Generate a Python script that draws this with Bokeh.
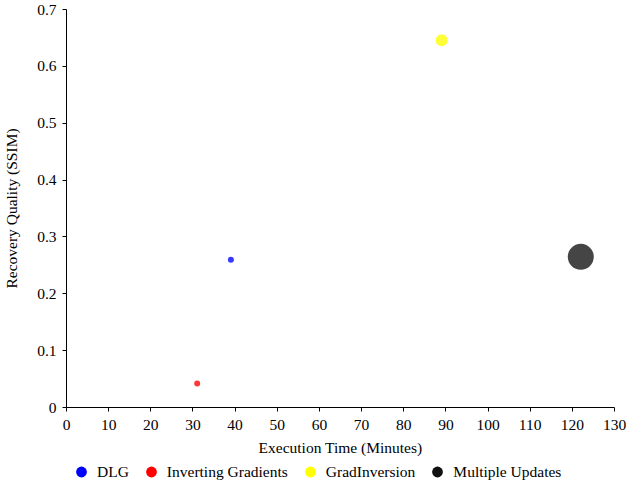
import math
from bokeh.plotting import figure
from bokeh.layouts import column
from bokeh.models import FixedTicker, Legend, LegendItem, ColumnDataSource
from bokeh.embed import file_html
from bokeh.resources import INLINE

methods = ["DLG", "Inverting Gradients", "GradInversion", "Multiple Updates"]
exec_time = [39, 31, 89, 122]
ssim = [0.26, 0.042, 0.646, 0.265]
colors = ["#0000ff", "#ff0000", "#ffff00", "#111111"]
marker_px = [6, 6, 12, 26]
x_ticks = list(range(0, 131, 10))
y_ticks = [0, 0.1, 0.2, 0.3, 0.4, 0.5, 0.6, 0.7]

FONT = "Liberation Serif"

p = figure(output_backend="svg", toolbar_location=None,
           frame_width=548, frame_height=398,
           x_range=(0, 130), y_range=(0, 0.7),
           min_border_left=65, min_border_right=12, min_border_top=9,
           min_border_bottom=0)
p.outline_line_color = None
p.xgrid.visible = False
p.ygrid.visible = False

src = ColumnDataSource(dict(x=exec_time, y=ssim, c=colors, s=marker_px))
p.scatter("x", "y", source=src, size="s", fill_color="c", line_color=None,
          fill_alpha=0.78)

for ax in (p.xaxis[0], p.yaxis[0]):
    ax.axis_line_color = "#000000"
    ax.major_tick_line_color = "#000000"
    ax.major_tick_out = 4
    ax.major_tick_in = 0
    ax.minor_tick_line_color = None
    ax.major_label_text_font = FONT
    ax.major_label_text_font_size = "15.5px"
    ax.major_label_text_color = "#000000"
    ax.axis_label_text_font = FONT
    ax.axis_label_text_font_size = "15.5px"
    ax.axis_label_text_font_style = "normal"
    ax.axis_label_text_color = "#000000"

p.xaxis.ticker = FixedTicker(ticks=x_ticks)
p.yaxis.ticker = FixedTicker(ticks=y_ticks)
p.yaxis.major_label_overrides = {0: "0"}
p.xaxis.axis_label = "Execution Time (Minutes)"
p.yaxis.axis_label = "Recovery Quality (SSIM)"
p.xaxis.major_label_standoff = 8
p.yaxis.major_label_standoff = 6
p.xaxis.axis_label_standoff = 6
p.yaxis.axis_label_standoff = 14

# legend in its own strip below the chart
lg = figure(output_backend="svg", toolbar_location=None,
            frame_width=548, frame_height=27,
            x_range=(0, 1), y_range=(0, 1),
            x_axis_type=None, y_axis_type=None,
            min_border_left=65, min_border_right=12, min_border_top=0,
            min_border_bottom=0)
lg.outline_line_color = None
lg.xgrid.visible = False
lg.ygrid.visible = False

items = []
for m, c in zip(methods, colors):
    r = lg.scatter(x=[math.nan], y=[math.nan], fill_color=c, line_color=None,
                   fill_alpha=1.0)
    items.append(LegendItem(label=m, renderers=[r]))

legend = Legend(items=items, orientation="horizontal", location="top_left",
                label_text_font=FONT, label_text_font_size="15.5px",
                label_text_color="#000000",
                glyph_width=30, glyph_height=27, spacing=7,
                label_standoff=1, padding=0, margin=0,
                border_line_color=None, background_fill_alpha=0)
lg.add_layout(legend, "center")

layout = column(p, lg, spacing=0)
open("out.html", "w").write(file_html(layout, INLINE))
